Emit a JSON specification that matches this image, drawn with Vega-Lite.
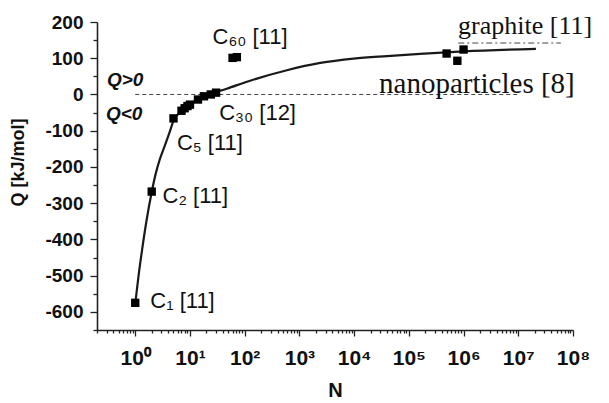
{
  "$schema": "https://vega.github.io/schema/vega-lite/v6.json",
  "width": 476,
  "height": 308,
  "autosize": {"type": "none"},
  "padding": {"left": 97, "top": 22, "right": 36, "bottom": 73},
  "background": "white",
  "config": {
    "view": {"stroke": null},
    "axis": {"grid": false, "domainColor": "#222", "tickColor": "#222", "domainWidth": 1.6, "tickWidth": 1.3, "labelColor": "#111", "titleColor": "#111", "labelFont": "Liberation Sans", "titleFont": "Liberation Sans", "labelFontWeight": "bold", "titleFontWeight": "bold", "labelFlush": false, "labelOverlap": false},
    "axisX": {"labelFontSize": 21, "labelPadding": 11, "titleFontSize": 20, "titlePadding": 12},
    "axisY": {"labelFontSize": 19, "labelPadding": 7, "titleFontSize": 18, "titleX": -70, "titleY": 140}
  },
  "datasets": {
    "curve": [
      {"N": 1, "Q": -577}, {"N": 1.15, "Q": -500}, {"N": 1.33, "Q": -430}, {"N": 1.6, "Q": -350},
      {"N": 2, "Q": -269}, {"N": 2.4, "Q": -215}, {"N": 2.78, "Q": -181}, {"N": 3.3, "Q": -150},
      {"N": 4.36, "Q": -99}, {"N": 5, "Q": -72}, {"N": 6.5, "Q": -50}, {"N": 8.8, "Q": -34},
      {"N": 13, "Q": -16}, {"N": 20, "Q": -2}, {"N": 47, "Q": 16}, {"N": 126, "Q": 38},
      {"N": 590, "Q": 67}, {"N": 2400, "Q": 87}, {"N": 9800, "Q": 99}, {"N": 40000, "Q": 106},
      {"N": 160000, "Q": 112}, {"N": 1000000, "Q": 119}, {"N": 21000000, "Q": 126}
    ],
    "points": [
      {"N": 1, "Q": -575}, {"N": 2, "Q": -268}, {"N": 5, "Q": -66}, {"N": 7, "Q": -45},
      {"N": 8, "Q": -38}, {"N": 9, "Q": -32}, {"N": 10, "Q": -28}, {"N": 14, "Q": -14},
      {"N": 18, "Q": -5}, {"N": 24, "Q": 0}, {"N": 30, "Q": 5}, {"N": 60, "Q": 101},
      {"N": 72, "Q": 103}, {"N": 490000, "Q": 113}, {"N": 770000, "Q": 93}, {"N": 1000000, "Q": 124}
    ],
    "zero": [{"N": 1, "Q": 0}, {"N": 10000000, "Q": 0}],
    "graphite": [{"N": 800000, "Q": 142}, {"N": 60000000, "Q": 142}],
    "labels": [
      {"N": 1.88, "Q": -590, "text": "C₁ [11]"},
      {"N": 3.15, "Q": -300, "text": "C₂ [11]"},
      {"N": 5.78, "Q": -154, "text": "C₅ [11]"},
      {"N": 34.2, "Q": -71, "text": "C₃₀ [12]"},
      {"N": 25.8, "Q": 139, "text": "C₆₀ [11]"}
    ],
    "graphiteLabel": [{"N": 794000, "Q": 166, "text": "graphite [11]"}],
    "nanoLabel": [{"N": 28600, "Q": 3, "text": "nanoparticles [8]"}],
    "signs": [
      {"N": 0.304, "Q": 23, "text": "Q>0"},
      {"N": 0.2916, "Q": -71, "text": "Q<0"}
    ]
  },
  "encoding": {
    "x": {
      "field": "N", "type": "quantitative",
      "scale": {"type": "log", "domain": [0.2, 100000000], "nice": false},
      "axis": {
        "title": "N",
        "values": [0.2,0.3,0.4,0.5,0.6,0.7,0.8,0.9,1,2,3,4,5,6,7,8,9,10,20,30,40,50,60,70,80,90,100,200,300,400,500,600,700,800,900,1000,2000,3000,4000,5000,6000,7000,8000,9000,10000,20000,30000,40000,50000,60000,70000,80000,90000,100000,200000,300000,400000,500000,600000,700000,800000,900000,1000000,2000000,3000000,4000000,5000000,6000000,7000000,8000000,9000000,10000000,20000000,30000000,40000000,50000000,60000000,70000000,80000000,90000000,100000000],
        "labelExpr": "abs(log(datum.value)/LN10 - round(log(datum.value)/LN10)) < 1e-6 ? '10' + substring('⁰¹²³⁴⁵⁶⁷⁸', round(log(datum.value)/LN10), round(log(datum.value)/LN10) + 1) : ''",
        "tickSize": {"condition": {"test": "abs(log(datum.value)/LN10 - round(log(datum.value)/LN10)) < 1e-6", "value": 6}, "value": 3}
      }
    },
    "y": {
      "field": "Q", "type": "quantitative",
      "scale": {"domain": [-650, 200], "nice": false, "zero": false},
      "axis": {
        "title": "Q  [kJ/mol]",
        "values": [-650,-600,-550,-500,-450,-400,-350,-300,-250,-200,-150,-100,-50,0,50,100,150,200],
        "labelExpr": "datum.value % 100 === 0 ? '' + datum.value : ''",
        "tickSize": {"condition": {"test": "datum.value % 100 === 0", "value": 7}, "value": 4}
      }
    }
  },
  "layer": [
    {"data": {"name": "zero"}, "mark": {"type": "line", "color": "#444", "strokeWidth": 1, "strokeDash": [4, 3]}, "encoding": {}},
    {"data": {"name": "graphite"}, "mark": {"type": "line", "color": "#444", "strokeWidth": 1, "strokeDash": [6, 3, 2, 3]}, "encoding": {}},
    {"data": {"name": "curve"}, "mark": {"type": "line", "color": "#1a1a1a", "strokeWidth": 2.2, "interpolate": "monotone"}, "encoding": {}},
    {"data": {"name": "points"}, "mark": {"type": "point", "shape": "square", "filled": true, "color": "#000", "opacity": 1, "size": 70}, "encoding": {}},
    {"data": {"name": "labels"}, "mark": {"type": "text", "align": "left", "baseline": "alphabetic", "font": "Liberation Sans", "fontSize": 22, "color": "#111"}, "encoding": {"text": {"field": "text"}}},
    {"data": {"name": "graphiteLabel"}, "mark": {"type": "text", "align": "left", "baseline": "alphabetic", "font": "Liberation Serif", "fontSize": 26, "color": "#111"}, "encoding": {"text": {"field": "text"}}},
    {"data": {"name": "nanoLabel"}, "mark": {"type": "text", "align": "left", "baseline": "alphabetic", "font": "Liberation Serif", "fontSize": 29, "color": "#111"}, "encoding": {"text": {"field": "text"}}},
    {"data": {"name": "signs"}, "mark": {"type": "text", "align": "left", "baseline": "alphabetic", "font": "Liberation Sans", "fontSize": 19, "fontWeight": "bold", "fontStyle": "italic", "color": "#111"}, "encoding": {"text": {"field": "text"}}}
  ]
}
